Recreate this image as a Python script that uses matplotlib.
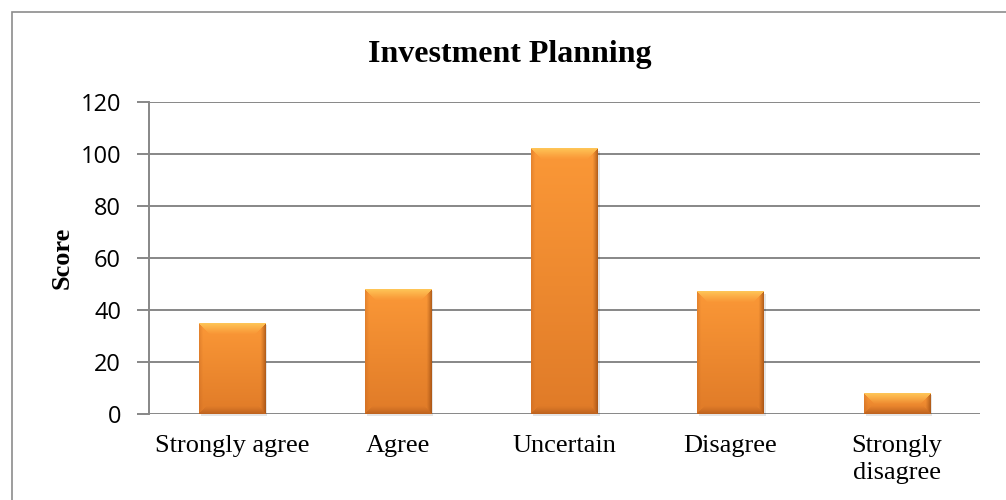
import numpy as np
import matplotlib.pyplot as plt
from matplotlib.patches import Rectangle
from matplotlib.colors import to_rgb

# responses and scores
categories = ['Strongly agree', 'Agree', 'Uncertain', 'Disagree', 'Strongly\ndisagree']
scores = [35, 48, 102, 47, 8]
yticks = [0, 20, 40, 60, 80, 100, 120]

plt.rcParams['font.family'] = ['Liberation Serif', 'DejaVu Serif']

fig = plt.figure(figsize=(10.06, 5.0), dpi=100)
ax = fig.add_axes([0.148, 0.172, 0.826, 0.624])

# outer frame of the chart area
fig.patches.append(Rectangle((12 / 1006, -0.1), 1.2, 1 - 12 / 500 + 0.1,
                             transform=fig.transFigure, fill=False,
                             edgecolor='#8c8c8c', linewidth=1.2))

x = np.arange(len(categories))
bars = ax.bar(x, scores, width=0.4, color='#f7963c', edgecolor='none', zorder=3)

ax.set_xlim(-0.5, len(categories) - 0.5)
ax.set_ylim(0, 120)
ax.set_yticks(yticks)
ax.yaxis.grid(True, color='#878787', linewidth=1.4, zorder=0)
ax.set_axisbelow(True)
for s in ['top', 'right', 'bottom']:
    ax.spines[s].set_visible(False)
ax.spines['left'].set_color('#878787')
ax.spines['left'].set_linewidth(1.4)
ax.tick_params(axis='y', length=9, width=1.4, color='#878787', pad=11)
ax.tick_params(axis='x', length=0, pad=15)
ax.set_xticks(x)
ax.set_xticklabels(categories, fontsize=19, linespacing=1.3)
for lab in ax.get_yticklabels():
    lab.set_fontfamily(['Open Sans', 'DejaVu Sans'])
    lab.set_fontsize(17)

ax.set_ylabel('Score', fontsize=19, fontweight='bold', labelpad=5)
fig.text(0.507, 0.876, 'Investment Planning', ha='center', va='baseline',
         fontsize=23, fontweight='bold')

# bevelled shading for each bar
fig.canvas.draw()
top_col = np.array(to_rgb('#fb9837'))
bot_col = np.array(to_rgb('#e07b28'))
edge_cols = [np.array(to_rgb(c)) for c in ('#ffcc5c', '#a9541a', '#c0621f', '#94460f')]
edge_w = [11, 8, 4, 5]          # top, bottom, left, right (px)
edge_k = [0.85, 0.6, 0.35, 0.65]
for b in bars:
    x0, y0 = b.get_x(), b.get_y()
    w, h = b.get_width(), b.get_height()
    p0 = ax.transData.transform((x0, y0))
    p1 = ax.transData.transform((x0 + w, y0 + h))
    pw, ph = int(round(p1[0] - p0[0])), int(round(p1[1] - p0[1]))
    if ph < 2:
        continue
    yy, xx = np.mgrid[0:ph, 0:pw].astype(float)
    t = (yy / max(ph - 1, 1))[..., None]
    img = top_col * (1 - t) + bot_col * t
    dists = np.stack([yy, ph - 1 - yy, xx, pw - 1 - xx])
    near = np.argmin(dists, axis=0)
    dmin = np.min(dists, axis=0)
    for i in range(4):
        wgt = np.clip(1 - dmin / edge_w[i], 0, 1) ** 1.2 * edge_k[i]
        wgt = np.where(near == i, wgt, 0)[..., None]
        img = img * (1 - wgt) + edge_cols[i] * wgt
    ax.imshow(img, extent=(x0, x0 + w, y0, y0 + h), origin='upper',
              aspect='auto', zorder=4, interpolation='bilinear')
    # faint shadow to the right of and below the bar
    ax.add_patch(Rectangle((x0 + 0.012, y0 - 0.8), w, h, transform=ax.transData,
                           facecolor='#000000', alpha=0.10, zorder=3.5,
                           linewidth=0, clip_on=False))
    b.set_visible(False)

ax.set_xlim(-0.5, len(categories) - 0.5)
ax.set_ylim(0, 120)
fig.savefig('out.png', dpi=100)
